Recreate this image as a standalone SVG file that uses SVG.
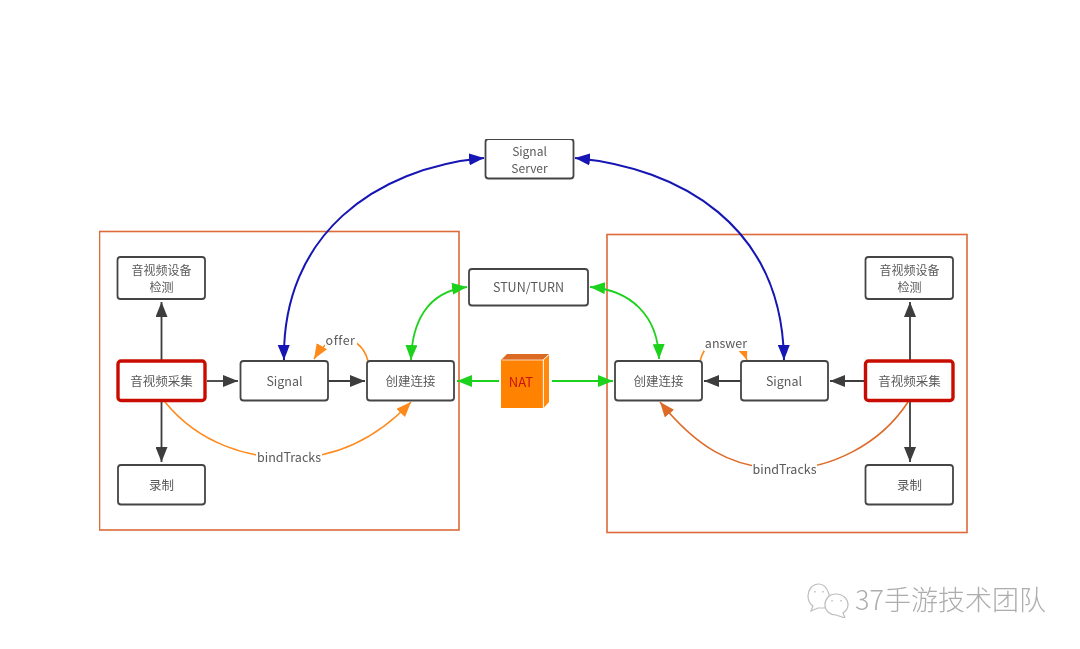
<svg xmlns="http://www.w3.org/2000/svg" width="1080" height="649" viewBox="0 0 1080 649">
<style>
text{font-family:"Noto Sans CJK SC","Open Sans","Noto Sans",sans-serif;font-size:12px;fill:#5a5a5a;text-anchor:middle}
.n{fill:#fff;stroke:#444;stroke-width:1.8}
.r{fill:#fff;stroke:#c80f05;stroke-width:3.4}
.f{fill:none;stroke:#dd6a38;stroke-width:1.6}
.c{fill:none;stroke-width:1.8}
.k{stroke:#3c3c3c;marker-end:url(#mk)}
.b{stroke:#1414b4;stroke-width:2;marker-start:url(#mb);marker-end:url(#mb)}
.g{stroke:#1fd21f;marker-start:url(#mg);marker-end:url(#mg)}
.g1{stroke:#1fd21f;stroke-width:2.2;marker-end:url(#mg)}
.o{stroke:#ff8a1e;stroke-width:1.6;marker-end:url(#mo)}
.d{stroke:#dd6a28;stroke-width:1.6;marker-end:url(#md)}
.lb{fill:#fff;stroke:none}
.e{font-size:12.5px}
</style>
<defs>
<filter id="soft" x="0" y="0" width="100%" height="100%"><feGaussianBlur stdDeviation="0.45"/></filter>
<marker id="mk" markerUnits="userSpaceOnUse" markerWidth="16" markerHeight="12" refX="15" refY="6" orient="auto-start-reverse"><path d="M0 0L15 6L0 12z" fill="#3c3c3c"/></marker>
<marker id="mb" markerUnits="userSpaceOnUse" markerWidth="16" markerHeight="12" refX="15" refY="6" orient="auto-start-reverse"><path d="M0 0L15 6L0 12z" fill="#1414b4"/></marker>
<marker id="mg" markerUnits="userSpaceOnUse" markerWidth="16" markerHeight="12" refX="15" refY="6" orient="auto-start-reverse"><path d="M0 0L15 6L0 12z" fill="#1fd21f"/></marker>
<marker id="mo" markerUnits="userSpaceOnUse" markerWidth="16" markerHeight="12" refX="15" refY="6" orient="auto-start-reverse"><path d="M0 0L15 6L0 12z" fill="#ff8a1e"/></marker>
<marker id="md" markerUnits="userSpaceOnUse" markerWidth="16" markerHeight="12" refX="15" refY="6" orient="auto-start-reverse"><path d="M0 0L15 6L0 12z" fill="#dd6a28"/></marker>
</defs>
<rect width="1080" height="649" fill="#fff"/>
<g filter="url(#soft)">
<g id="frame-left"><rect class="f" x="99.500" y="231.500" width="359.500" height="298.500"/></g>
<g id="frame-right"><rect class="f" x="607" y="234.500" width="360" height="298"/></g>
<g id="connectors">
<path class="c k" d="M161.500 361V302"/>
<path class="c k" d="M161.500 400V462"/>
<path class="c k" d="M207 381H238"/>
<path class="c k" d="M328 381H365"/>
<path class="c k" d="M741 381H704"/>
<path class="c k" d="M865 381H830"/>
<path class="c k" d="M910 361V302"/>
<path class="c k" d="M910 400V462"/>
<path class="c b" d="M484 158C375 168 282 235 284 360"/>
<path class="c b" d="M575 158C680 168 782 225 784 360"/>
<path class="c g" d="M467 287C425 292 412 325 411 360"/>
<path class="c g" d="M590 287C630 290 658 315 659 359"/>
<path class="c g1" d="M499 381H457"/>
<path class="c g1" d="M552 381H613"/>
<path class="c o" d="M368 361C364 345 352 338 340 338C332 338 322 346 314 359"/>
<path class="c o" d="M700 361C704 345 716 339 726 339C735 339 742 347 747 360"/>
<path class="c o" d="M165 402C200 445 250 458 290 458C335 458 375 440 411 402"/>
<path class="c d" d="M908 402C880 445 830 469 785 469C730 469 695 445 660 402"/>
<rect class="lb" x="325" y="333" width="32" height="14"/>
<rect class="lb" x="704" y="336" width="44" height="15"/>
<rect class="lb" x="256" y="451" width="66" height="15"/>
<rect class="lb" x="752" y="462" width="65" height="15"/>
<text class="e" x="340.500" y="345" style="letter-spacing:.5px">offer</text>
<text class="e" x="726" y="348">answer</text>
<text class="e" x="289" y="462">bindTracks</text>
<text class="e" x="784.500" y="474">bindTracks</text>
</g>
<g id="signal-server"><rect class="n" x="485.500" y="139" width="88" height="39.500" rx="3"/><text x="529.500" y="155.500">Signal</text><text x="529.500" y="173">Server</text></g>
<g id="stun"><rect class="n" x="469" y="269" width="119" height="36.500" rx="3"/><text class="e" x="528.500" y="292">STUN/TURN</text></g>
<g id="nat">
<path d="M501 360L507 354H549L543 360z" fill="#dd6a20"/>
<path d="M543.600 360L549 355V402L543.600 408z" fill="#ff8a0a"/>
<rect x="501" y="360" width="42" height="48" fill="#ff8205"/>
<path d="M543.300 360V408M502 360H543L548 355" fill="none" stroke="#fff" stroke-width=".7"/>
<text x="521" y="387" style="fill:#c8140a;font-size:13px">NAT</text>
</g>
<g id="l-device"><rect class="n" x="117.500" y="257" width="87.500" height="42" rx="3"/><text x="161.500" y="274.500">音视频设备</text><text x="161.500" y="292">检测</text></g>
<g id="l-capture"><rect class="r" x="118" y="361" width="87" height="39.500" rx="3"/><text class="e" x="161.500" y="386">音视频采集</text></g>
<g id="l-signal"><rect class="n" x="240.500" y="361" width="87.500" height="39.500" rx="3"/><text class="e" x="284.500" y="386">Signal</text></g>
<g id="l-conn"><rect class="n" x="367" y="361" width="87" height="39.500" rx="3"/><text class="e" x="410.500" y="386">创建连接</text></g>
<g id="l-rec"><rect class="n" x="118" y="465" width="87" height="39.500" rx="3"/><text class="e" x="161.500" y="490">录制</text></g>
<g id="r-device"><rect class="n" x="865.500" y="257" width="87.500" height="42" rx="3"/><text x="909.500" y="274.500">音视频设备</text><text x="909.500" y="292">检测</text></g>
<g id="r-capture"><rect class="r" x="865.500" y="361" width="87.500" height="39.500" rx="3"/><text class="e" x="909.500" y="386">音视频采集</text></g>
<g id="r-signal"><rect class="n" x="741" y="361" width="87" height="39.500" rx="3"/><text class="e" x="784" y="386">Signal</text></g>
<g id="r-conn"><rect class="n" x="615" y="361" width="87" height="39.500" rx="3"/><text class="e" x="658.500" y="386">创建连接</text></g>
<g id="r-rec"><rect class="n" x="865.500" y="465" width="87.500" height="39.500" rx="3"/><text class="e" x="909.500" y="490">录制</text></g>
<g id="watermark">
<path d="M819 584C812 584 808 590 808 596C808 601 810 604 813 606L811 611L818 608L825 608C829 604 829 596 829 594C827 588 824 584 819 584z" fill="#fff" stroke="#bdbdbd" stroke-width="1.200"/>
<path d="M836 594C829 594 825 599 825 605C825 611 830 615 836 615L845 618L843 613C846 611 848 608 848 605C848 599 843 594 836 594z" fill="#fff" stroke="#bdbdbd" stroke-width="1.200"/>
<path d="M815 591v1.500M823 591v1.500M832 600v1.500M841 600v1.500" stroke="#bdbdbd" stroke-width="1.400"/>
<text x="950.500" y="610" style="font-size:27px;fill:#adadad;font-weight:300">37手游技术团队</text>
</g>
</g>
</svg>
